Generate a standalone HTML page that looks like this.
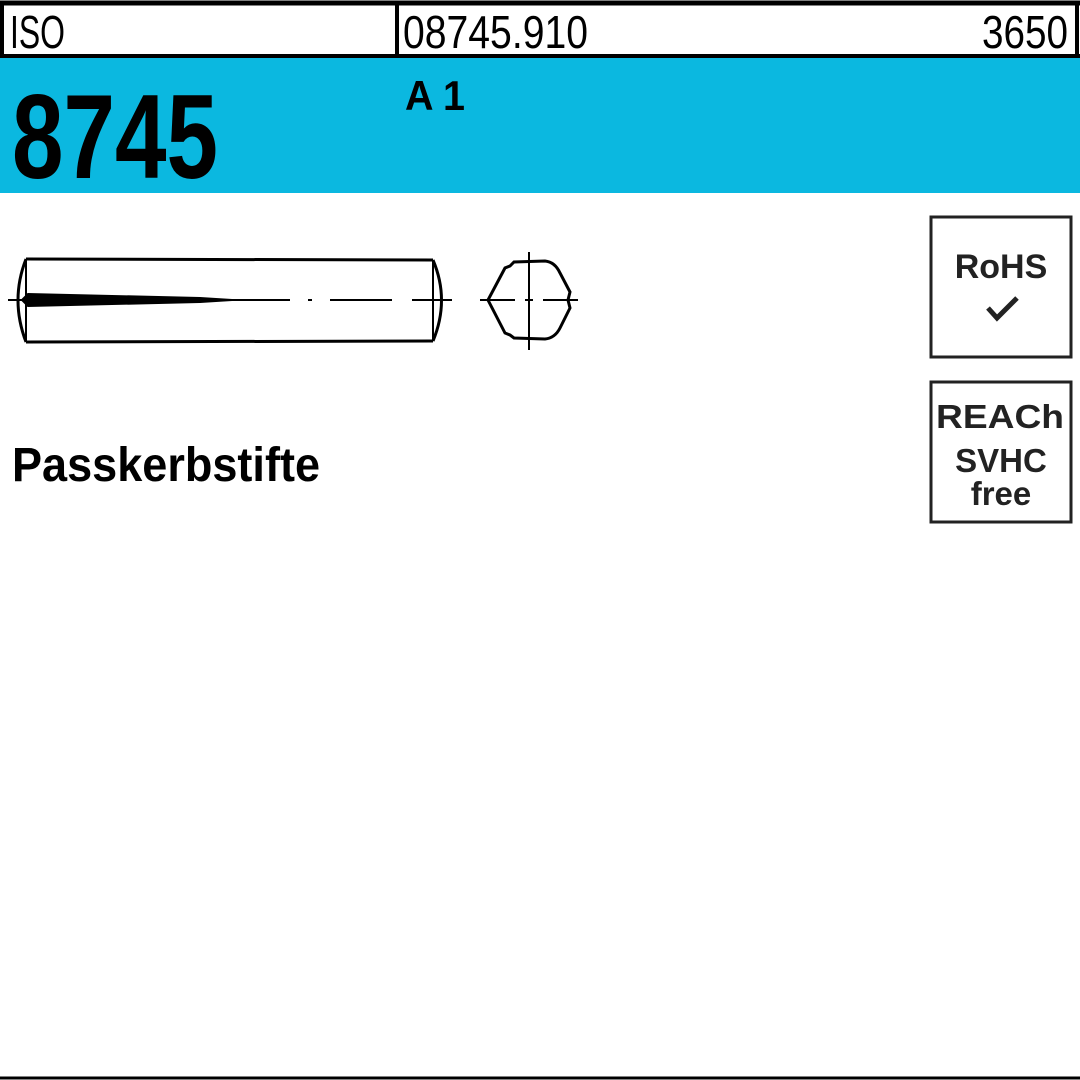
<!DOCTYPE html>
<html><head><meta charset="utf-8"><style>html,body{margin:0;padding:0;background:#fff;}svg{display:block}</style></head>
<body>
<svg width="1080" height="1080" viewBox="0 0 1080 1080" xmlns="http://www.w3.org/2000/svg" font-family="Liberation Sans, sans-serif">
<rect x="0" y="0" width="1080" height="1080" fill="#fff"/>
<!-- header -->
<rect x="0" y="56" width="1080" height="137" fill="#0bb8e0"/>
<line x1="0" y1="3" x2="1080" y2="3" stroke="#000" stroke-width="5"/>
<line x1="0" y1="56" x2="1080" y2="56" stroke="#000" stroke-width="4"/>
<line x1="2" y1="3" x2="2" y2="56" stroke="#000" stroke-width="4"/>
<line x1="1077" y1="3" x2="1077" y2="56" stroke="#000" stroke-width="4"/>
<line x1="397" y1="3" x2="397" y2="56" stroke="#000" stroke-width="4"/>
<text x="10" y="48" font-size="46" textLength="55" lengthAdjust="spacingAndGlyphs">ISO</text>
<text x="403" y="48" font-size="46" textLength="185" lengthAdjust="spacingAndGlyphs">08745.910</text>
<text x="982" y="48" font-size="46" textLength="86" lengthAdjust="spacingAndGlyphs">3650</text>
<text x="12" y="178" font-size="120" font-weight="bold" textLength="206" lengthAdjust="spacingAndGlyphs">8745</text>
<text x="405" y="110" font-size="42" font-weight="bold" textLength="60" lengthAdjust="spacingAndGlyphs">A 1</text>
<!-- pin -->
<g stroke="#000" fill="none" stroke-width="3">
<path d="M26 259 L433 260 M26 342 L433 341"/>
<path d="M26 259 Q10 300 26 342"/>
<path d="M433 260 Q450 300 433 341"/>
<line x1="26" y1="259" x2="26" y2="342" stroke-width="2"/>
<line x1="433" y1="260" x2="433" y2="341" stroke-width="2"/>
</g>
<g stroke="#000" stroke-width="2" fill="none">
<line x1="8" y1="300" x2="22" y2="300"/>
<line x1="223" y1="300" x2="290" y2="300"/>
<line x1="308" y1="300" x2="312" y2="300"/>
<line x1="330" y1="300" x2="392" y2="300"/>
<line x1="412" y1="300" x2="452" y2="300"/>
<path d="M22 300 L28 294 L200 298 L232 300 L200 302 L28 306 Z" fill="#000"/>
</g>
<!-- cross section -->
<g stroke="#000" fill="none">
<line x1="529" y1="252" x2="529" y2="350" stroke-width="2"/>
<line x1="480" y1="300" x2="515" y2="300" stroke-width="2"/>
<line x1="525" y1="300" x2="533" y2="300" stroke-width="2"/>
<line x1="543" y1="300" x2="578" y2="300" stroke-width="2"/>
<path d="M510 266 L505 268 L488 300 L505 333 L510 335 L514 338 L545 339 Q555 338 560 328 L570 308 L568 300 L570 292 L560 273 Q555 262 545 261 L514 262 Z" stroke-width="3"/>
</g>
<text x="12" y="481" font-size="48" font-weight="bold" textLength="308" lengthAdjust="spacingAndGlyphs">Passkerbstifte</text>
<!-- boxes -->
<rect x="931" y="217" width="140" height="140" fill="none" stroke="#222" stroke-width="3"/>
<text x="1001" y="278" font-size="34" font-weight="bold" text-anchor="middle" fill="#222">RoHS</text>
<path d="M988 308 L997 318 L1017 298" stroke="#222" stroke-width="5" fill="none"/>
<rect x="931" y="382" width="140" height="140" fill="none" stroke="#222" stroke-width="3"/>
<text x="1000" y="428" font-size="33" font-weight="bold" text-anchor="middle" fill="#222" textLength="128" lengthAdjust="spacingAndGlyphs">REACh</text>
<text x="1001" y="472" font-size="33" font-weight="bold" text-anchor="middle" fill="#222">SVHC</text>
<text x="1001" y="505" font-size="33" font-weight="bold" text-anchor="middle" fill="#222">free</text>
<line x1="0" y1="1078" x2="1080" y2="1078" stroke="#000" stroke-width="3"/>
</svg>
</body></html>
